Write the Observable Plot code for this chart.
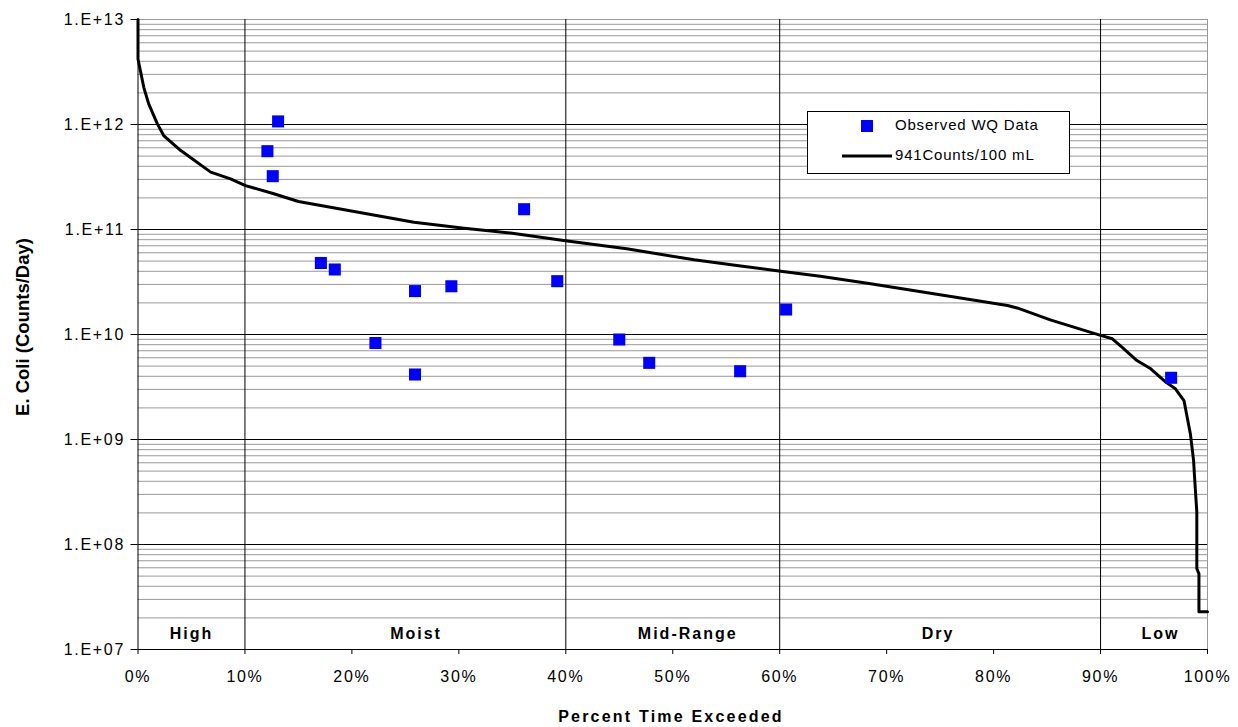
<!DOCTYPE html>
<html><head><meta charset="utf-8">
<script src="https://cdn.jsdelivr.net/npm/d3@7"></script>
<script src="https://cdn.jsdelivr.net/npm/@observablehq/plot@0.6"></script>
<style>
body{margin:0;background:#fff;}
.fdc text{font-family:"Liberation Sans",Arial,sans-serif;}
.fdc g[aria-label="y-axis tick label"] text,
.fdc g[aria-label="x-axis tick label"] text{letter-spacing:1.7px;}
.fdc g[aria-label="text"] text{letter-spacing:2px;}
</style></head><body><div id="chart"></div>
<script>
// Flow duration curve: 941 counts/100 mL load curve
const flowX = [0, 0, 0.54, 1.0, 1.8, 2.4, 4.0, 6.8, 8.65, 10.05, 12.7, 15.0, 18.0, 25.8, 30.5, 35.0, 39.8, 45.7, 52.0, 56.0, 60.1, 63.8, 68.2, 74.4, 81.3, 82.2, 85.3, 90.0, 91.1, 92.0, 93.4, 94.7, 96.1, 97.0, 97.8, 98.1, 98.4, 98.7, 98.8, 99.0, 99.0, 99.2, 99.2, 100];
const flowY = [1e13, 4.2e12, 2.26e12, 1.57e12, 1.02e12, 7.85e11, 5.65e11, 3.52e11, 3.04e11, 2.62e11, 2.19e11, 1.85e11, 1.63e11, 1.17e11, 1.03e11, 9.2e10, 7.85e10, 6.55e10, 5.14e10, 4.54e10, 4.01e10, 3.59e10, 3.08e10, 2.44e10, 1.89e10, 1.79e10, 1.38e10, 9.8e9, 9.1e9, 7.57e9, 5.65e9, 4.71e9, 3.52e9, 3.04e9, 2.35e9, 1.63e9, 1.13e9, 6.3e8, 4.23e8, 2.04e8, 5.9e7, 5.25e7, 2.29e7, 2.29e7];
// Observed WQ data
const obsX = [12.1, 12.6, 13.1, 17.1, 18.4, 22.2, 25.9, 25.9, 29.3, 36.1, 39.2, 45.0, 47.8, 56.3, 60.6, 96.6];
const obsY = [5.57e11, 3.22e11, 1.07e12, 4.8e10, 4.16e10, 8.3e9, 2.59e10, 4.16e9, 2.88e10, 1.56e11, 3.22e10, 8.96e9, 5.37e9, 4.47e9, 1.73e10, 3.87e9];
// Flow regimes
const regionNames = ["High", "Moist", "Mid-Range", "Dry", "Low"];
const regionLabelX = [5, 26, 51.4, 74.8, 95.6];
const regionBounds = [10, 40, 60, 90];
// Ticks
const yTicks = [1e7, 1e8, 1e9, 1e10, 1e11, 1e12, 1e13];
const xTicks = [0, 10, 20, 30, 40, 50, 60, 70, 80, 90, 100];
const minorMult = [2, 3, 4, 5, 6, 7, 8, 9];
const legendLabels = ["Observed WQ Data", "941Counts/100 mL"];

const minor = yTicks.slice(0, -1).flatMap(d => minorMult.map(m => d * m));
const flow = flowX.map((x, i) => ({x, y: flowY[i]}));
const obs = obsX.map((x, i) => ({x, y: obsY[i]}));

const W = 1238, H = 727;
const chart = Plot.plot({
  width: W, height: H,
  marginLeft: 137.5, marginRight: 31, marginTop: 19, marginBottom: 78,
  className: "fdc",
  style: {background: "#fff", color: "#000", fontFamily: "Liberation Sans, Arial, sans-serif"},
  x: {domain: [0, 100]},
  y: {type: "log", domain: [1e7, 1e13]},
  marks: [
    Plot.ruleY(minor, {stroke: "#999", strokeWidth: 1}),
    Plot.ruleY([1e13], {stroke: "#999", strokeWidth: 1}),
    Plot.ruleY(yTicks.slice(1, -1), {stroke: "#000", strokeWidth: 1}),
    Plot.ruleX([100], {stroke: "#999", strokeWidth: 1}),
    Plot.ruleX(regionBounds, {stroke: "#000", strokeWidth: 1}),
    Plot.ruleX([0], {stroke: "#000", strokeWidth: 1}),
    Plot.ruleY([1e7], {stroke: "#000", strokeWidth: 1}),
    Plot.axisY({ticks: yTicks, tickFormat: d => "1.E+" + String(Math.round(Math.log10(d))).padStart(2, "0"),
      tickSize: 7, tickPadding: 6, label: null, fontSize: 16}),
    Plot.axisX({ticks: xTicks, tickFormat: d => d + "%", tickSize: 5, tickPadding: 16, label: null, fontSize: 16}),
    Plot.text(regionNames, {x: (d, i) => regionLabelX[i], text: d => d, frameAnchor: "bottom", lineAnchor: "middle",
      dy: -16, fontWeight: "bold", fontSize: 16, fill: "#000"}),
    Plot.line(flow, {x: "x", y: "y", stroke: "#000", strokeWidth: 3, curve: "linear"}),
    Plot.dot(obs, {x: "x", y: "y", symbol: "square", r: 6.8, fill: "#0000ff", stroke: "none"})
  ]
});
document.getElementById("chart").appendChild(chart);

const svg = d3.select(chart);
// Axis titles
svg.append("text").attr("x", 671).attr("y", 722).attr("text-anchor", "middle")
  .style("font-family", "Liberation Sans, Arial, sans-serif").style("font-size", "16px")
  .style("font-weight", "bold").style("letter-spacing", "2.2px").text("Percent Time Exceeded");
svg.append("text").attr("transform", "translate(29,327) rotate(-90)").attr("text-anchor", "middle")
  .style("font-family", "Liberation Sans, Arial, sans-serif").style("font-size", "18.5px")
  .style("font-weight", "bold").text("E. Coli (Counts/Day)");
// Legend
const lg = svg.append("g");
lg.append("rect").attr("x", 807.5).attr("y", 111.5).attr("width", 262).attr("height", 62)
  .attr("fill", "#fff").attr("stroke", "#000").attr("stroke-width", 1);
lg.append("rect").attr("x", 861).attr("y", 120).attr("width", 12).attr("height", 12).attr("fill", "#0000ff");
lg.append("line").attr("x1", 842).attr("x2", 892).attr("y1", 156).attr("y2", 156)
  .attr("stroke", "#000").attr("stroke-width", 3);
legendLabels.forEach((t, i) => {
  lg.append("text").attr("x", 895).attr("y", 130 + i * 30).attr("text-anchor", "start")
    .style("font-family", "Liberation Sans, Arial, sans-serif").style("font-size", "15px")
    .style("letter-spacing", "0.8px").attr("fill", "#000").text(t);
});
</script></body></html>
